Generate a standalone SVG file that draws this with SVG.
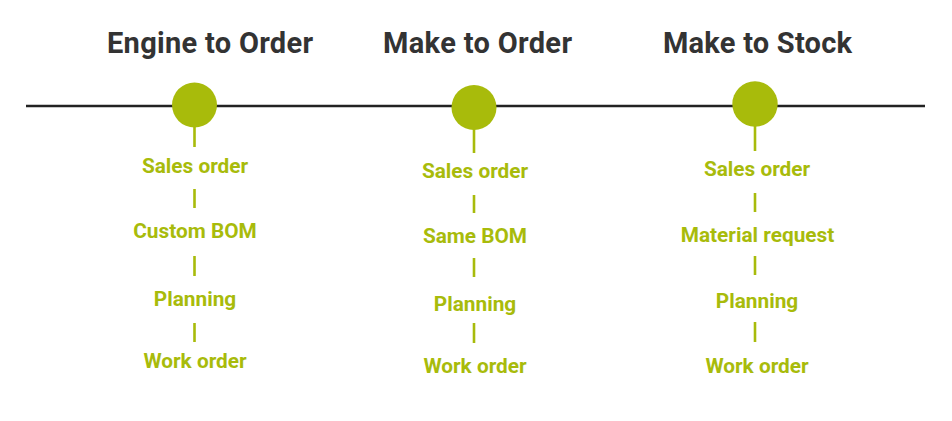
<svg xmlns="http://www.w3.org/2000/svg" width="952" height="421" viewBox="0 0 952 421">
<style>
.title{font-family:Roboto,"Liberation Sans",sans-serif;font-weight:700;font-size:29px;fill:#333333;text-anchor:middle}
.lbl{font-family:Roboto,"Liberation Sans",sans-serif;font-weight:700;font-size:20.8px;fill:#A8BB0B;text-anchor:middle}
.dot{fill:#A8BB0B}
.tick{stroke:#A8BB0B;stroke-width:2.6;fill:none}
.axis{stroke:#222222;stroke-width:2.6;fill:none}
</style>
<rect width="952" height="421" fill="#ffffff"/>
<g id="connectors">
<line class="axis" x1="26" y1="106" x2="925" y2="106"/>
<line class="tick" x1="194.5" y1="126" x2="194.5" y2="147"/>
<line class="tick" x1="194.5" y1="189" x2="194.5" y2="208"/>
<line class="tick" x1="194.5" y1="256" x2="194.5" y2="276"/>
<line class="tick" x1="194.5" y1="323" x2="194.5" y2="342"/>
<line class="tick" x1="474" y1="128" x2="474" y2="153"/>
<line class="tick" x1="474" y1="195" x2="474" y2="213"/>
<line class="tick" x1="474" y1="258" x2="474" y2="277"/>
<line class="tick" x1="474" y1="323" x2="474" y2="343"/>
<line class="tick" x1="755" y1="125" x2="755" y2="151"/>
<line class="tick" x1="755" y1="193" x2="755" y2="212"/>
<line class="tick" x1="755" y1="256" x2="755" y2="275"/>
<line class="tick" x1="755" y1="322" x2="755" y2="342"/>
</g>
<g id="eto">
<text class="title" x="210" y="53" textLength="206" lengthAdjust="spacing">Engine to Order</text>
<circle class="dot" cx="194.5" cy="105" r="22.5"/>
<text class="lbl" x="195" y="173">Sales order</text>
<text class="lbl" x="195" y="238">Custom BOM</text>
<text class="lbl" x="195" y="305.5">Planning</text>
<text class="lbl" x="195" y="368">Work order</text>
</g>
<g id="mto">
<text class="title" x="477.5" y="53" textLength="189" lengthAdjust="spacing">Make to Order</text>
<circle class="dot" cx="474" cy="107.5" r="22.5"/>
<text class="lbl" x="475" y="178">Sales order</text>
<text class="lbl" x="475" y="243">Same BOM</text>
<text class="lbl" x="475" y="310.5">Planning</text>
<text class="lbl" x="475" y="373">Work order</text>
</g>
<g id="mts">
<text class="title" x="757.5" y="53" textLength="189" lengthAdjust="spacing">Make to Stock</text>
<circle class="dot" cx="755" cy="104" r="22.7"/>
<text class="lbl" x="757" y="176">Sales order</text>
<text class="lbl" x="757.5" y="242">Material request</text>
<text class="lbl" x="757" y="308">Planning</text>
<text class="lbl" x="757" y="373">Work order</text>
</g>
</svg>
